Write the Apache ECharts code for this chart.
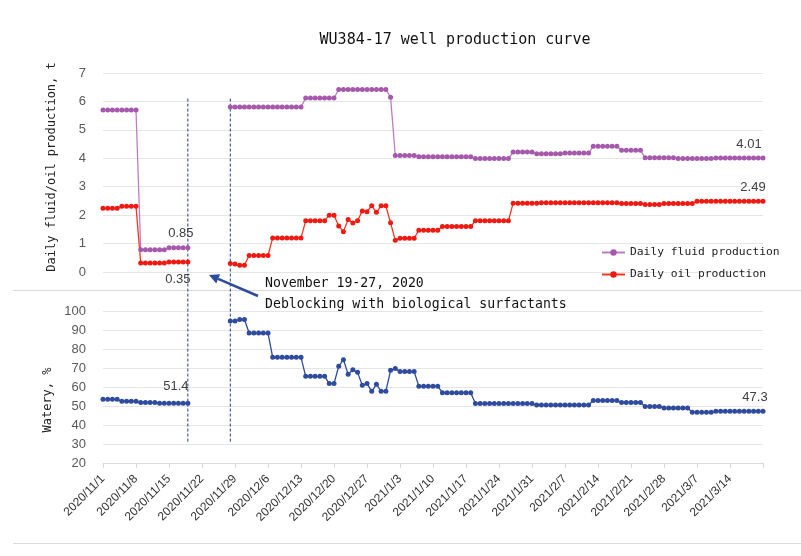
<!DOCTYPE html>
<html>
<head>
<meta charset="utf-8">
<script src="https://cdn.jsdelivr.net/npm/echarts@6/dist/echarts.min.js"></script>
<style>html,body{margin:0;padding:0;background:#fff}#c{width:801px;height:556px}</style>
</head>
<body>
<div id="c"></div>
<script>
// ---- data ----
const startDate = [2020, 11, 1];
const dayCount = 141;
const fluid = [
5.7,5.7,5.7,5.7,5.7,5.7,5.7,5.7,
0.78,0.78,0.78,0.78,0.78,0.78,0.85,0.85,0.85,0.85,0.85,
null,null,null,null,null,null,null,null,
5.8,5.8,5.8,5.8,5.8,5.8,5.8,5.8,5.8,5.8,5.8,5.8,5.8,5.8,5.8,5.8,
6.12,6.12,6.12,6.12,6.12,6.12,6.12,
6.42,6.42,6.42,6.42,6.42,6.42,6.42,6.42,6.42,6.42,6.42,
6.15,
4.1,4.1,4.1,4.1,4.1,
4.05,4.05,4.05,4.05,4.05,4.05,4.05,4.05,4.05,4.05,4.05,4.05,
3.99,3.99,3.99,3.99,3.99,3.99,3.99,3.99,
4.22,4.22,4.22,4.22,4.22,
4.16,4.16,4.16,4.16,4.16,4.16,
4.19,4.19,4.19,4.19,4.19,4.19,
4.42,4.42,4.42,4.42,4.42,4.42,
4.28,4.28,4.28,4.28,4.28,
4.02,4.02,4.02,4.02,4.02,4.02,4.02,
3.99,3.99,3.99,3.99,3.99,3.99,3.99,3.99,
4.01,4.01,4.01,4.01,4.01,4.01,4.01,4.01,4.01,4.01,4.01
];
const oil = [
2.24,2.24,2.24,2.24,2.31,2.31,2.31,2.31,
0.32,0.32,0.32,0.32,0.32,0.32,0.35,0.35,0.35,0.35,0.35,
null,null,null,null,null,null,null,null,
0.30,0.28,0.24,0.24,
0.58,0.58,0.58,0.58,0.58,
1.2,1.2,1.2,1.2,1.2,1.2,1.2,
1.8,1.8,1.8,1.8,1.8,
2.0,2.0,
1.62,1.42,1.85,1.72,1.8,2.15,2.12,2.33,2.1,2.33,2.33,
1.73,1.12,
1.19,1.19,1.19,1.19,
1.47,1.47,1.47,1.47,1.47,
1.6,1.6,1.6,1.6,1.6,1.6,1.6,
1.8,1.8,1.8,1.8,1.8,1.8,1.8,1.8,
2.42,2.42,2.42,2.42,2.42,2.42,
2.44,2.44,2.44,2.44,2.44,2.44,2.44,2.44,2.44,2.44,2.44,2.44,2.44,2.44,2.44,2.44,2.44,
2.41,2.41,2.41,2.41,2.41,
2.37,2.37,2.37,2.37,
2.41,2.41,2.41,2.41,2.41,2.41,2.41,
2.49,2.49,2.49,2.49,2.49,2.49,2.49,2.49,2.49,2.49,2.49,2.49,2.49,2.49,2.49
];
const watery = [
53.5,53.5,53.5,53.5,52.5,52.5,52.5,52.5,
51.8,51.8,51.8,51.8,51.4,51.4,51.4,51.4,51.4,51.4,51.4,
null,null,null,null,null,null,null,null,
94.7,94.7,95.5,95.5,
88.4,88.4,88.4,88.4,88.4,
75.6,75.6,75.6,75.6,75.6,75.6,75.6,
65.6,65.6,65.6,65.6,65.6,
61.8,61.8,
70.9,74.4,66.7,69.1,67.7,60.9,61.8,57.7,61.4,57.7,57.7,
68.8,69.7,
68.1,68.1,68.1,68.1,
60.4,60.4,60.4,60.4,60.4,
57.0,57.0,57.0,57.0,57.0,57.0,57.0,
51.3,51.3,51.3,51.3,51.3,51.3,51.3,51.3,51.3,51.3,51.3,51.3,51.3,
50.5,50.5,50.5,50.5,50.5,50.5,50.5,50.5,50.5,50.5,50.5,50.5,
52.9,52.9,52.9,52.9,52.9,52.9,
51.9,51.9,51.9,51.9,51.9,
49.8,49.8,49.8,49.8,
48.9,48.9,48.9,48.9,48.9,48.9,
46.7,46.7,46.7,46.7,46.7,
47.3,47.3,47.3,47.3,47.3,47.3,47.3,47.3,47.3,47.3,47.3
];
const seriesNames = ['Daily fluid production', 'Daily oil production', 'Watery'];
const labelledIdx = [18, 140];
const treatmentIdx = [18, 27];
const title = 'WU384-17 well production curve';
const noteLines = ['November 19-27, 2020', 'Deblocking with biological surfactants'];

// categories (consecutive calendar days)
const cats = [];
for (let i = 0; i < dayCount; i++) {
  const d = new Date(startDate[0], startDate[1] - 1, startDate[2] + i);
  cats.push(d.getFullYear() + '/' + (d.getMonth() + 1) + '/' + d.getDate());
}

const MONO = 'DejaVu Sans Mono';
const SANS = 'Liberation Sans';
const labelStyle = {fontFamily: SANS, fontSize: 13, color: '#404040'};

function withLabels(arr, cfg) {
  return arr.map((v, i) => {
    const k = labelledIdx.indexOf(i);
    if (k < 0 || v == null) return v;
    return {value: v, label: Object.assign({show: true, formatter: String(v)}, labelStyle, cfg[k])};
  });
}

const chart = echarts.init(document.getElementById('c'), null, {renderer: 'canvas'});
const gridLine = {lineStyle: {color: '#E6E6E6', width: 1}};
chart.setOption({
  animation: false,
  backgroundColor: '#fff',
  title: {
    text: title, left: 450, top: 28, textAlign: 'center',
    textStyle: {fontFamily: MONO, fontSize: 15, fontWeight: 'normal', color: '#111'}
  },
  legend: {
    data: [seriesNames[0], seriesNames[1]],
    orient: 'vertical', left: 596, top: 242, itemWidth: 23, itemHeight: 8, itemGap: 11,
    textStyle: {fontFamily: MONO, fontSize: 11.3, color: '#222'}
  },
  grid: [
    {left: 103, right: 38, top: 73, height: 199},
    {left: 103, right: 38, top: 311, height: 152}
  ],
  xAxis: [
    {type: 'category', gridIndex: 0, data: cats, boundaryGap: false, show: false},
    {type: 'category', gridIndex: 1, data: cats, boundaryGap: false,
     axisLine: {lineStyle: {color: '#D9D9D9'}},
     axisTick: {show: true, length: 5, interval: (i) => i % 7 === 0, lineStyle: {color: '#D9D9D9'}},
     axisLabel: {interval: (i) => i % 7 === 0 && i < dayCount - 1, rotate: 45, margin: 14,
                 fontFamily: SANS, fontSize: 12, color: '#333'}}
  ],
  yAxis: [
    {type: 'value', gridIndex: 0, min: 0, max: 7, interval: 1,
     name: 'Daily fluid/oil production, t', nameLocation: 'middle', nameGap: 45, nameRotate: 90,
     nameTextStyle: {fontFamily: MONO, fontSize: 12, color: '#222', padding: [0, 0, 0, 11]},
     axisLine: {show: false}, axisTick: {show: false},
     axisLabel: {fontFamily: SANS, fontSize: 13, color: '#595959', margin: 17},
     splitLine: gridLine},
    {type: 'value', gridIndex: 1, min: 20, max: 100, interval: 10,
     name: 'Watery, %', nameLocation: 'middle', nameGap: 45, nameRotate: 90,
     nameTextStyle: {fontFamily: MONO, fontSize: 12, color: '#222', padding: [0, 26, 0, 0]},
     axisLine: {show: false}, axisTick: {show: false},
     axisLabel: {fontFamily: SANS, fontSize: 13, color: '#595959', margin: 17},
     splitLine: gridLine}
  ],
  series: [
    {name: seriesNames[0], type: 'line', xAxisIndex: 0, yAxisIndex: 0,
     data: withLabels(fluid, [{position: 'top', offset: [-7, 0]}, {position: 'top', offset: [-14, 0]}]),
     symbol: 'circle', symbolSize: 5, showAllSymbol: true, connectNulls: false,
     itemStyle: {color: '#A659AC'}, lineStyle: {color: '#BE7CC2', width: 1.3}},
    {name: seriesNames[1], type: 'line', xAxisIndex: 0, yAxisIndex: 0,
     data: withLabels(oil, [{position: 'bottom', offset: [-10, 3]}, {position: 'top', offset: [-10, 0]}]),
     symbol: 'circle', symbolSize: 5, showAllSymbol: true, connectNulls: false,
     itemStyle: {color: '#EE1A12'}, lineStyle: {color: '#F5361E', width: 1.3}},
    {name: seriesNames[2], type: 'line', xAxisIndex: 1, yAxisIndex: 1,
     data: withLabels(watery, [{position: 'top', offset: [-12, -3]}, {position: 'top', offset: [-8, 0]}]),
     symbol: 'circle', symbolSize: 5, showAllSymbol: true, connectNulls: false,
     itemStyle: {color: '#2E4B9F'}, lineStyle: {color: '#2E4B9F', width: 1.3}}
  ]
});

// annotation overlay: treatment window dashed lines, note and arrow
const g = [];
treatmentIdx.forEach((idx) => {
  const top = chart.convertToPixel({xAxisIndex: 0, yAxisIndex: 0}, [cats[idx], 6.1]);
  const bot = chart.convertToPixel({xAxisIndex: 1, yAxisIndex: 1}, [cats[idx], 31]);
  g.push({type: 'line', shape: {x1: top[0], y1: top[1], x2: bot[0], y2: bot[1]},
          style: {stroke: '#1F3A8A', lineWidth: 1, lineDash: [3, 2]}, z: 1});
});
// separators between the two panels
g.push({type: 'line', shape: {x1: 13, y1: 290.5, x2: 801, y2: 290.5}, style: {stroke: '#D9D9D9', lineWidth: 1}});
g.push({type: 'line', shape: {x1: 13, y1: 543.5, x2: 801, y2: 543.5}, style: {stroke: '#D9D9D9', lineWidth: 1}});
// arrow
const ax1 = 258, ay1 = 296, ax2 = 209, ay2 = 275;
const ang = Math.atan2(ay2 - ay1, ax2 - ax1);
const hl = 10, hw = 5;
const bx = ax2 - hl * Math.cos(ang), by = ay2 - hl * Math.sin(ang);
g.push({type: 'line', shape: {x1: ax1, y1: ay1, x2: bx, y2: by}, style: {stroke: '#2F4B9E', lineWidth: 2.5}, z: 5});
g.push({type: 'polygon', shape: {points: [[ax2, ay2],
  [bx + hw * Math.sin(ang), by - hw * Math.cos(ang)],
  [bx - hw * Math.sin(ang), by + hw * Math.cos(ang)]]}, style: {fill: '#2F4B9E'}, z: 5});
g.push({type: 'text', left: 265, top: 277, style: {text: noteLines[0], font: '13.2px "' + MONO + '"', fill: '#111'}, z: 5});
g.push({type: 'text', left: 265, top: 298, style: {text: noteLines[1], font: '13.2px "' + MONO + '"', fill: '#111'}, z: 5});
chart.setOption({graphic: g});
</script>
</body>
</html>
